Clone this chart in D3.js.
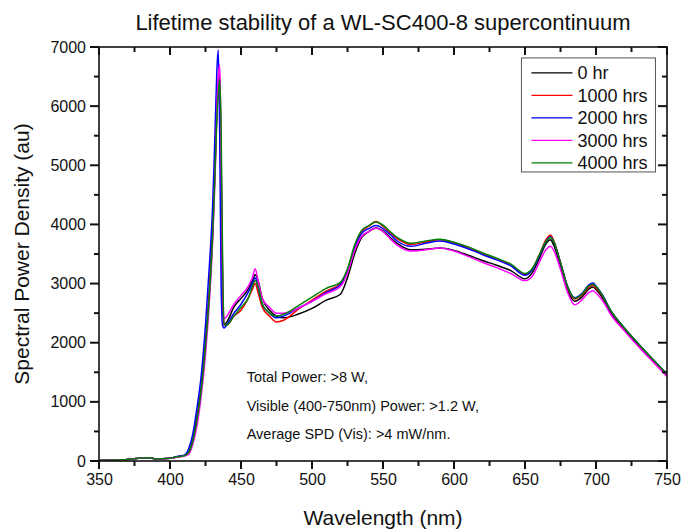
<!DOCTYPE html>
<html>
<head>
<meta charset="utf-8">
<script src="https://cdn.jsdelivr.net/npm/d3@7"></script>
<style>
  body { margin: 0; background: #fff; }
  svg text { font-family: Arial, "Liberation Sans", sans-serif; fill: #111; }
</style>
</head>
<body>
<div id="chart"></div>
<script>
// wavelength grid (nm)
const wavelengths = [350, 360, 370, 380, 385, 390, 400, 405, 408, 410, 413, 416, 419, 422, 425, 428,
  430, 431, 432, 433, 434, 435, 436, 437, 438, 440, 445, 450, 455, 458, 460, 462, 465, 470, 475,
  480, 490, 500, 510, 520, 525, 530, 535, 540, 545, 550, 555, 560, 570, 580, 590, 600, 610, 620,
  630, 640, 650, 655, 660, 665, 668, 670, 675, 680, 685, 690, 695, 698, 700, 705, 710, 720, 730, 740, 750];

const seriesNames = ['0 hr', '1000 hrs', '2000 hrs', '3000 hrs', '4000 hrs'];
const seriesColors = ['#000000', '#ff0000', '#0000ff', '#ff00ff', '#008000'];

const spd0 = [10, 15, 25, 50, 55, 35, 45, 70, 80, 90, 150, 350, 750, 1250, 2000, 3000,
  3900, 4500, 5200, 5900, 6300, 6200, 4500, 2800, 2300, 2350, 2600, 2750, 2900, 3050, 3150, 3050, 2750, 2550, 2450,
  2420, 2480, 2580, 2720, 2820, 3100, 3500, 3780, 3880, 3940, 3890, 3780, 3680, 3570, 3580, 3600, 3560, 3480, 3390,
  3310, 3220, 3080, 3180, 3420, 3680, 3740, 3660, 3300, 2890, 2700, 2770, 2910, 2940, 2900, 2740, 2520, 2220, 1950, 1700, 1450];

const spd1000 = [10, 15, 25, 50, 55, 35, 45, 70, 80, 90, 130, 320, 700, 1200, 1950, 2950,
  3850, 4450, 5200, 6000, 6500, 6600, 5000, 3000, 2300, 2300, 2450, 2550, 2750, 2900, 3000, 2850, 2600, 2450, 2350,
  2380, 2560, 2720, 2870, 3000, 3230, 3620, 3880, 3970, 4050, 3970, 3860, 3760, 3660, 3700, 3740, 3690, 3600, 3500,
  3410, 3310, 3150, 3240, 3480, 3750, 3820, 3740, 3360, 2940, 2740, 2810, 2940, 2970, 2930, 2770, 2550, 2240, 1970, 1710, 1460];

const spd2000 = [10, 15, 25, 50, 55, 35, 45, 75, 90, 100, 200, 450, 900, 1450, 2300, 3400,
  4300, 5000, 5800, 6600, 6950, 5500, 3000, 2300, 2250, 2300, 2500, 2650, 2850, 3000, 3100, 2950, 2650, 2500, 2420,
  2450, 2580, 2700, 2850, 2980, 3220, 3600, 3850, 3930, 3980, 3930, 3830, 3720, 3630, 3680, 3720, 3670, 3590, 3490,
  3400, 3300, 3140, 3230, 3460, 3720, 3790, 3720, 3350, 2950, 2760, 2830, 2980, 3010, 2960, 2790, 2560, 2250, 1980, 1720, 1470];

const spd3000 = [10, 15, 25, 50, 55, 35, 45, 65, 75, 85, 110, 280, 600, 1100, 1800, 2800,
  3700, 4300, 5000, 5900, 6500, 6700, 5200, 3200, 2400, 2450, 2650, 2800, 2950, 3100, 3250, 3050, 2750, 2600, 2500,
  2500, 2580, 2700, 2830, 2950, 3180, 3560, 3800, 3880, 3940, 3880, 3760, 3650, 3550, 3570, 3600, 3550, 3460, 3360,
  3270, 3170, 3050, 3120, 3360, 3580, 3630, 3570, 3240, 2850, 2640, 2720, 2850, 2880, 2840, 2700, 2490, 2200, 1930, 1680, 1430];

const spd4000 = [10, 15, 25, 50, 55, 35, 45, 70, 80, 90, 140, 330, 700, 1200, 1950, 2900,
  3800, 4400, 5100, 5800, 6200, 6450, 5600, 3500, 2300, 2300, 2450, 2600, 2750, 2950, 3050, 2950, 2650, 2500, 2450,
  2480, 2620, 2770, 2920, 3020, 3250, 3650, 3900, 3980, 4040, 3990, 3880, 3780, 3680, 3720, 3750, 3700, 3620, 3520,
  3430, 3330, 3170, 3250, 3480, 3720, 3780, 3720, 3350, 2950, 2750, 2820, 2960, 2990, 2950, 2780, 2560, 2250, 1980, 1720, 1470];

const xTicks = [350, 400, 450, 500, 550, 600, 650, 700, 750];
const yTicks = [0, 1000, 2000, 3000, 4000, 5000, 6000, 7000];
const notes = ['Total Power: >8 W,', 'Visible (400-750nm) Power: >1.2 W,', 'Average SPD (Vis): >4 mW/nm.'];

const allSeries = [spd0, spd1000, spd2000, spd3000, spd4000];

const width = 697, height = 530;
const margin = { top: 47, right: 30, bottom: 69, left: 99 };
const innerW = width - margin.left - margin.right;
const innerH = height - margin.top - margin.bottom;

const svg = d3.select('#chart').append('svg')
  .attr('width', width)
  .attr('height', height);

const g = svg.append('g')
  .attr('transform', `translate(${margin.left},${margin.top})`);

const x = d3.scaleLinear().domain([350, 750]).range([0, innerW]);
const y = d3.scaleLinear().domain([0, 7000]).range([innerH, 0]);

// clip so lines stay in the frame
svg.append('defs').append('clipPath').attr('id', 'clip')
  .append('rect').attr('width', innerW).attr('height', innerH);

// spectra
const line = d3.line()
  .x((d, i) => x(wavelengths[i]))
  .y(d => y(d))
  .curve(d3.curveMonotoneX);

g.append('g').attr('clip-path', 'url(#clip)')
  .selectAll('path')
  .data(allSeries)
  .enter()
  .append('path')
  .attr('d', line)
  .attr('fill', 'none')
  .attr('stroke', (d, i) => seriesColors[i])
  .attr('stroke-width', 1.5);

// tick marks: outward on left / bottom, inward on top / right
const minorX = d3.range(350, 751, 25).filter(v => v % 50 !== 0);
const minorY = d3.range(0, 7001, 500).filter(v => v % 1000 !== 0);
const xMarks = xTicks.map(v => ({ v, len: 8 })).concat(minorX.map(v => ({ v, len: 5 })));
const yMarks = yTicks.map(v => ({ v, len: 9 })).concat(minorY.map(v => ({ v, len: 5 })));

const ticks = g.append('g')
  .attr('stroke', '#111')
  .attr('stroke-width', 2);

ticks.selectAll('line.xb').data(xMarks).enter().append('line')
  .attr('x1', d => x(d.v)).attr('x2', d => x(d.v))
  .attr('y1', innerH).attr('y2', d => innerH + d.len);
ticks.selectAll('line.xt').data(xMarks).enter().append('line')
  .attr('x1', d => x(d.v)).attr('x2', d => x(d.v))
  .attr('y1', 0).attr('y2', d => d.len);
ticks.selectAll('line.yl').data(yMarks).enter().append('line')
  .attr('y1', d => y(d.v)).attr('y2', d => y(d.v))
  .attr('x1', 0).attr('x2', d => -d.len);
ticks.selectAll('line.yr').data(yMarks).enter().append('line')
  .attr('y1', d => y(d.v)).attr('y2', d => y(d.v))
  .attr('x1', innerW).attr('x2', d => innerW - d.len);

// tick labels via the axis generators
const xAxis = g.append('g')
  .attr('transform', `translate(0,${innerH})`)
  .call(d3.axisBottom(x).tickValues(xTicks).tickSize(0).tickPadding(13));
xAxis.select('.domain').remove();
xAxis.selectAll('text').style('font-size', '16px');

const yAxis = g.append('g')
  .call(d3.axisLeft(y).tickValues(yTicks).tickSize(0).tickPadding(13).tickFormat(d3.format('d')));
yAxis.select('.domain').remove();
yAxis.selectAll('text').style('font-size', '16px');

// frame
g.append('rect')
  .attr('width', innerW)
  .attr('height', innerH)
  .attr('fill', 'none')
  .attr('stroke', '#111')
  .attr('stroke-width', 1.6);

// legend
const legend = g.append('g').attr('transform', `translate(${x(647.5)},${y(6815)})`);
legend.append('rect')
  .attr('width', 134)
  .attr('height', 114)
  .attr('fill', '#fff')
  .attr('stroke', '#555')
  .attr('stroke-width', 1);

const entry = legend.selectAll('g.entry')
  .data(seriesNames)
  .enter()
  .append('g')
  .attr('class', 'entry')
  .attr('transform', (d, i) => `translate(0,${15 + i * 22.5})`);

entry.append('line')
  .attr('x1', 10).attr('x2', 51)
  .attr('stroke', (d, i) => seriesColors[i])
  .attr('stroke-width', 1.3);

entry.append('text')
  .attr('x', 56)
  .attr('dy', '0.35em')
  .style('font-size', '18px')
  .text(d => d);

// notes
g.selectAll('text.note')
  .data(notes)
  .enter()
  .append('text')
  .attr('class', 'note')
  .attr('x', x(454))
  .attr('y', (d, i) => y(1420) + i * 28.5)
  .attr('dy', '0.35em')
  .style('font-size', '14.5px')
  .text(d => d);

// titles
svg.append('text')
  .attr('x', 383)
  .attr('y', 22)
  .attr('dy', '0.35em')
  .attr('text-anchor', 'middle')
  .style('font-size', '22px')
  .text('Lifetime stability of a WL-SC400-8 supercontinuum');

svg.append('text')
  .attr('x', margin.left + innerW / 2)
  .attr('y', 518)
  .attr('dy', '0.35em')
  .attr('text-anchor', 'middle')
  .style('font-size', '21px')
  .text('Wavelength (nm)');

svg.append('text')
  .attr('transform', `translate(22,${margin.top + innerH / 2}) rotate(-90)`)
  .attr('dy', '0.35em')
  .attr('text-anchor', 'middle')
  .style('font-size', '21px')
  .text('Spectral Power Density (au)');
</script>
</body>
</html>
